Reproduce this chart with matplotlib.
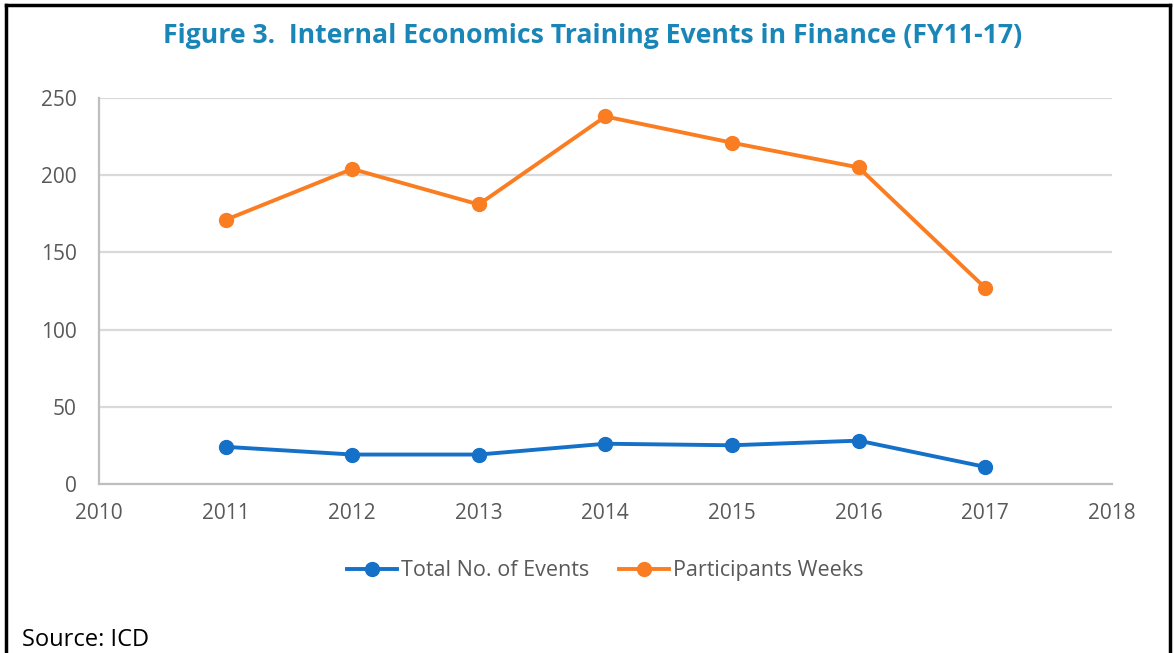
import matplotlib.pyplot as plt
from matplotlib.lines import Line2D

plt.rcParams['font.family'] = ['Open Sans', 'DejaVu Sans']

years = [2011, 2012, 2013, 2014, 2015, 2016, 2017]
total_events = [24, 19, 19, 26, 25, 28, 11]
participant_weeks = [171, 204, 181, 238, 221, 205, 127]

blue = '#1570c8'
orange = '#fb7d22'
grey_text = '#595959'

fig = plt.figure(figsize=(11.74, 6.53), dpi=100)
ax = fig.add_axes([0.0843, 0.259, 0.8627, 0.591])

ax.plot(years, total_events, color=blue, lw=2.8, marker='o', ms=10,
        label='Total No. of Events')
ax.plot(years, participant_weeks, color=orange, lw=2.8, marker='o', ms=10,
        label='Participants Weeks')

ax.set_xlim(2010, 2018)
ax.set_ylim(0, 250)
ax.set_xticks(range(2010, 2019))
ax.set_yticks(range(0, 251, 50))
ax.grid(axis='y', color='#d9d9d9', lw=1.6)
ax.set_axisbelow(True)
for side in ['top', 'right']:
    ax.spines[side].set_visible(False)
for side in ['left', 'bottom']:
    ax.spines[side].set_color('#bfbfbf')
    ax.spines[side].set_linewidth(1.6)
ax.tick_params(length=0, labelsize=15, colors=grey_text)
ax.tick_params(axis='y', pad=16)
ax.tick_params(axis='x', pad=14)

ax.legend(loc='center', bbox_to_anchor=(0.5, -0.225), ncol=2, frameon=False,
          fontsize=15.5, labelcolor=grey_text, handlelength=2.3,
          handletextpad=0.2, columnspacing=1.4)

fig.text(0.505, 0.945, 'Figure 3.  Internal Economics Training Events in Finance (FY11-17)',
         ha='center', va='center', fontsize=19.2, fontweight='bold', color='#1a86b8')
fig.text(0.019, 0.02, 'Source: ICD', ha='left', va='center', fontsize=17, color='black')

# frame around the figure (open at the bottom)
fig.add_artist(Line2D([0.005, 0.005], [0.0, 0.992], transform=fig.transFigure, color='black', lw=2.5))
fig.add_artist(Line2D([0.005, 0.997], [0.992, 0.992], transform=fig.transFigure, color='black', lw=2.5))
fig.add_artist(Line2D([0.997, 0.997], [0.0, 0.992], transform=fig.transFigure, color='black', lw=2.5))

fig.savefig('out.png', dpi=100)
